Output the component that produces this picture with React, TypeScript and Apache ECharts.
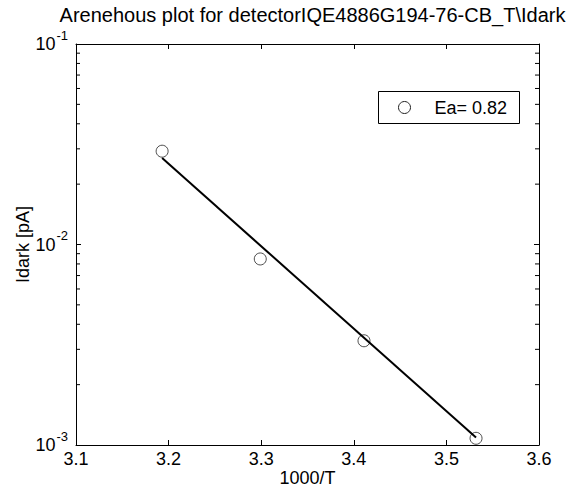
import React, { useEffect, useRef } from "react";
import * as echarts from "echarts";

const TITLE = "Arenehous plot for detectorIQE4886G194-76-CB_T\\Idark";
const X_NAME = "1000/T";
const Y_NAME = "Idark [pA]";
const LEGEND_LABEL = "Ea= 0.82";

const X_MIN = 3.1;
const X_MAX = 3.6;
const X_INTERVAL = 0.1;
const Y_MIN = 0.001;
const Y_MAX = 0.1;

const invT = [3.193, 3.299, 3.411, 3.532];
const idark = [0.0292, 0.00847, 0.00331, 0.00108];

const fitX = [3.193, 3.532];
const fitY = [0.027, 0.00109];

const minorTicks = [
  0.002, 0.003, 0.004, 0.005, 0.006, 0.007, 0.008, 0.009,
  0.02, 0.03, 0.04, 0.05, 0.06, 0.07, 0.08, 0.09,
];

const FONT = "'Liberation Sans', Arial, Helvetica, sans-serif";

export default function App() {
  const ref = useRef<HTMLDivElement>(null);

  useEffect(() => {
    if (!ref.current) return;
    const chart = echarts.init(ref.current, null, { renderer: "svg" });

    const left = 76;
    const top = 44;
    const right = 539;
    const bottom = 445;
    const W = 574;
    const H = 495;

    const option: any = {
      animation: false,
      backgroundColor: "#fff",
      textStyle: { fontFamily: FONT, color: "#000" },
      title: {
        text: TITLE,
        left: (left + right) / 2,
        textAlign: "center",
        top: 0,
        textStyle: { fontFamily: FONT, fontSize: 20, fontWeight: "normal", color: "#000" },
      },
      grid: {
        left,
        top,
        right: W - right,
        bottom: H - bottom,
        containLabel: false,
        show: false,
      },
      xAxis: [
        {
          type: "value",
          min: X_MIN,
          max: X_MAX,
          interval: X_INTERVAL,
          name: X_NAME,
          nameLocation: "middle",
          nameGap: 24,
          nameMoveOverlap: false,
          nameTextStyle: { fontFamily: FONT, fontSize: 18, color: "#000" },
          axisLine: { show: true, onZero: false, lineStyle: { color: "#000", width: 1 } },
          axisTick: { show: true, inside: true, length: 5, lineStyle: { color: "#000" } },
          axisLabel: {
            fontFamily: FONT,
            fontSize: 18,
            color: "#000",
            margin: 5,
            formatter: (v: number) => v.toFixed(1),
          },
          splitLine: { show: false },
        },
        {
          type: "value",
          position: "top",
          min: X_MIN,
          max: X_MAX,
          interval: X_INTERVAL,
          axisLine: { show: true, onZero: false, lineStyle: { color: "#000", width: 1 } },
          axisTick: { show: true, inside: true, length: 5, lineStyle: { color: "#000" } },
          axisLabel: { show: false },
          splitLine: { show: false },
        },
      ],
      yAxis: [
        {
          type: "log",
          logBase: 10,
          min: Y_MIN,
          max: Y_MAX,
          name: Y_NAME,
          nameLocation: "middle",
          nameGap: 44,
          nameMoveOverlap: false,
          nameRotate: 90,
          nameTextStyle: { fontFamily: FONT, fontSize: 18, color: "#000" },
          axisLine: { show: true, onZero: false, lineStyle: { color: "#000", width: 1 } },
          axisTick: { show: true, inside: true, length: 5, lineStyle: { color: "#000" } },
          axisLabel: {
            margin: 8,
            formatter: (v: number) => {
              const e = Math.round(Math.log10(v));
              return "{b|10}{s|" + e + "}";
            },
            rich: {
              b: { fontFamily: FONT, fontSize: 18, color: "#000" },
              s: { fontFamily: FONT, fontSize: 13, color: "#000", padding: [0, 0, 18, 1] },
            },
          },
          splitLine: { show: false },
          minorTick: { show: false },
        },
        {
          type: "log",
          logBase: 10,
          min: Y_MIN,
          max: Y_MAX,
          position: "right",
          axisLine: { show: true, onZero: false, lineStyle: { color: "#000", width: 1 } },
          axisTick: { show: true, inside: true, length: 5, lineStyle: { color: "#000" } },
          axisLabel: { show: false },
          splitLine: { show: false },
        },
      ],
      series: [
        {
          type: "line",
          name: "fit",
          data: fitX.map((x, i) => [x, fitY[i]]),
          showSymbol: false,
          symbol: "none",
          lineStyle: { color: "#000", width: 2 },
          z: 3,
          silent: true,
        },
        {
          type: "scatter",
          name: LEGEND_LABEL,
          data: invT.map((x, i) => [x, idark[i]]),
          symbol: "circle",
          symbolSize: 12,
          itemStyle: { color: "rgba(0,0,0,0)", borderColor: "#222", borderWidth: 1 },
          z: 2,
          silent: true,
        },
        {
          type: "custom",
          name: "minor",
          silent: true,
          clip: false,
          data: minorTicks.map((v) => [X_MIN, v]),
          renderItem: (params: any, api: any) => {
            const v = api.value(1);
            const pl = api.coord([X_MIN, v]);
            const pr = api.coord([X_MAX, v]);
            return {
              type: "group",
              children: [
                {
                  type: "line",
                  shape: { x1: pl[0], y1: pl[1], x2: pl[0] + 4, y2: pl[1] },
                  style: { stroke: "#000", lineWidth: 1 },
                },
                {
                  type: "line",
                  shape: { x1: pr[0] - 4, y1: pr[1], x2: pr[0], y2: pr[1] },
                  style: { stroke: "#000", lineWidth: 1 },
                },
              ],
            };
          },
        },
      ],
      graphic: [
        {
          type: "group",
          left: 378,
          top: 91,
          children: [
            {
              type: "rect",
              shape: { x: 0, y: 0, width: 141, height: 32 },
              style: { fill: "#fff", stroke: "#000", lineWidth: 1 },
            },
            {
              type: "circle",
              shape: { cx: 26, cy: 16, r: 6 },
              style: { fill: "rgba(0,0,0,0)", stroke: "#222", lineWidth: 1 },
            },
            {
              type: "text",
              x: 56,
              y: 16,
              style: {
                text: LEGEND_LABEL,
                fontFamily: FONT,
                fontSize: 18,
                fill: "#000",
                verticalAlign: "middle",
              },
            },
          ],
        },
      ],
    };

    chart.setOption(option);
    return () => chart.dispose();
  }, []);

  return (
    <div
      ref={ref}
      style={{ position: "absolute", left: 0, top: 0, width: 574, height: 495, background: "#fff" }}
    />
  );
}
